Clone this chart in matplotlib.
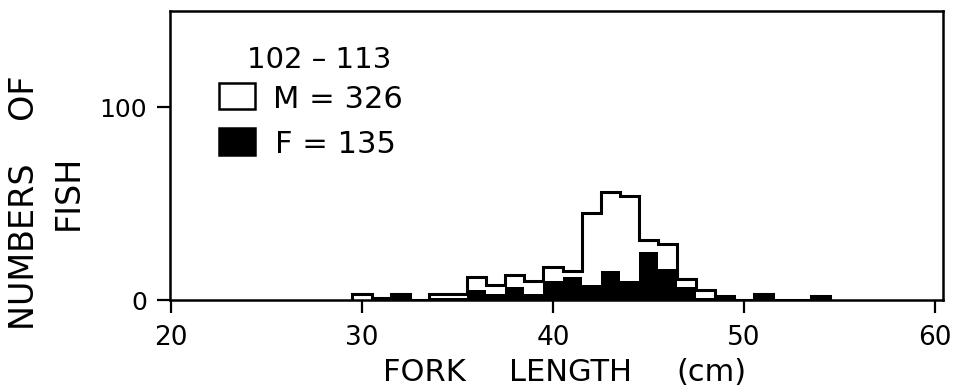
import numpy as np
import matplotlib
matplotlib.use("Agg")
import matplotlib.pyplot as plt
from matplotlib.patches import Rectangle

plt.rcParams['font.family'] = ['DejaVu Sans']

# fork length classes (cm), 1-cm bins centred on each value
lengths = [30, 31, 32, 33, 34, 35, 36, 37, 38, 39, 40, 41, 42,
           43, 44, 45, 46, 47, 48, 49, 50, 51, 52, 53, 54]
males = [3, 1, 3, 0, 3, 3, 12, 8, 13, 10, 17, 15, 45,
         56, 54, 31, 29, 11, 5, 2, 0, 3, 0, 0, 2]
females = [0, 1, 3, 0, 1, 1, 5, 3, 7, 3, 10, 12, 8,
           15, 10, 25, 16, 7, 1, 2, 0, 3, 0, 0, 2]

group_label = "102 – 113"
n_males = 326
n_females = 135

xticks = [20, 30, 40, 50, 60]
yticks = [0, 100]

edges = np.append(np.array(lengths) - 0.5, lengths[-1] + 0.5)

fig = plt.figure(figsize=(9.6, 3.92), dpi=100)
ax = fig.add_axes([170 / 960, 1 - 300 / 392, 773 / 960, 289 / 392])

ax.stairs(females, edges, baseline=0, fill=True, color='black', lw=0)
ax.stairs(males, edges, baseline=0, fill=False, color='black', lw=2.2)

ax.set_xlim(19.95, 60.42)
ax.set_ylim(0, 150)
ax.set_xticks(xticks)
ax.set_yticks(yticks)
ax.tick_params(direction='out', length=9.5, width=1.6, labelsize=19)
ax.tick_params(axis='x', pad=8.5)
ax.tick_params(axis='y', pad=7, labelsize=18)
for s in ax.spines.values():
    s.set_linewidth(1.8)

# legend block
ax.text(0.0996, 0.803, group_label, transform=ax.transAxes,
        fontsize=21, ha='left', va='baseline')
ax.add_patch(Rectangle((0.0634, 0.661), 0.0466, 0.09, transform=ax.transAxes,
                       facecolor='white', edgecolor='black', lw=1.8))
ax.text(0.1333, 0.664, f"M = {n_males}", transform=ax.transAxes,
        fontsize=22, ha='left', va='baseline')
ax.add_patch(Rectangle((0.0634, 0.502), 0.0466, 0.093, transform=ax.transAxes,
                       facecolor='black', edgecolor='black', lw=1.8))
ax.text(0.1359, 0.509, f"F = {n_females}", transform=ax.transAxes,
        fontsize=22, ha='left', va='baseline')

# axis titles
fig.text(25 / 960, 1 - 203 / 392, "NUMBERS    OF", rotation=90,
         fontsize=24, ha='center', va='center')
fig.text(68 / 960, 1 - 192 / 392, "FISH", rotation=90,
         fontsize=24, ha='center', va='center')
for word, xc in [("FORK", 424.5), ("LENGTH", 571), ("(cm)", 711)]:
    fig.text(xc / 960, 1 - 381 / 392, word, fontsize=22,
             ha='center', va='baseline')

fig.savefig("out.png", dpi=100)
